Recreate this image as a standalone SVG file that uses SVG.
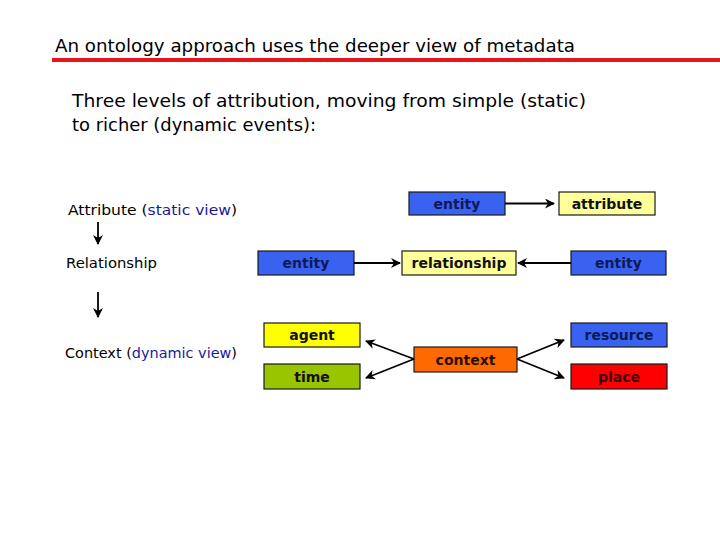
<svg xmlns="http://www.w3.org/2000/svg" width="720" height="540" viewBox="0 0 720 540">
<style>
.hand{font-family:"DejaVu Sans","Liberation Sans",sans-serif;fill:#000}
.lbl{font-family:"DejaVu Sans","Liberation Sans",sans-serif;font-size:14px;fill:#000}
.blue{fill:#1a1a99}
.box{stroke:#1a1a1a;stroke-width:1.2}
.bt{font-family:"DejaVu Sans","Verdana",sans-serif;font-weight:bold;font-size:14px;text-anchor:middle;dominant-baseline:central}
.conn{stroke:#000;stroke-width:1.8;fill:none;marker-end:url(#ah)}
</style>
<defs>
<marker id="ah" viewBox="0 0 10 10" refX="9" refY="5" markerWidth="10" markerHeight="10" markerUnits="userSpaceOnUse" orient="auto">
<path d="M0,0 L10,5 L0,10 L3,5 Z" fill="#000"/>
</marker>
</defs>
<rect width="720" height="540" fill="#fff"/>
<text class="hand" x="55" y="52" font-size="17" textLength="520" lengthAdjust="spacingAndGlyphs">An ontology approach uses the deeper view of metadata</text>
<rect x="52" y="58" width="668" height="4" fill="#e8141b"/>
<text class="hand" x="72" y="107" font-size="18" textLength="514" lengthAdjust="spacingAndGlyphs">Three levels of attribution, moving from simple (static)</text>
<text class="hand" x="72" y="131" font-size="18" textLength="244" lengthAdjust="spacingAndGlyphs">to richer (dynamic events):</text>

<g id="levels">
<text class="lbl" x="68" y="215" textLength="169" lengthAdjust="spacingAndGlyphs">Attribute (<tspan class="blue">static view</tspan>)</text>
<text class="lbl" x="66" y="268" textLength="91" lengthAdjust="spacingAndGlyphs">Relationship</text>
<text class="lbl" x="65" y="358" textLength="172" lengthAdjust="spacingAndGlyphs">Context (<tspan class="blue">dynamic view</tspan>)</text>
</g>

<g id="n-entity1"><rect class="box" x="409" y="192" width="96" height="23" fill="#3a62f0"/><text class="bt" x="457" y="203.5" fill="#0d1a55">entity</text></g>
<g id="n-attribute"><rect class="box" x="559" y="192" width="96" height="23" fill="#ffff99"/><text class="bt" x="607" y="203.5" fill="#111">attribute</text></g>
<g id="n-entity2"><rect class="box" x="258" y="251" width="96" height="24" fill="#3a62f0"/><text class="bt" x="306" y="263" fill="#0d1a55">entity</text></g>
<g id="n-relationship"><rect class="box" x="402" y="251" width="114" height="24" fill="#ffff99"/><text class="bt" x="459" y="263" fill="#111">relationship</text></g>
<g id="n-entity3"><rect class="box" x="571" y="251" width="95" height="24" fill="#3a62f0"/><text class="bt" x="618.5" y="263" fill="#0d1a55">entity</text></g>
<g id="n-agent"><rect class="box" x="264" y="323" width="96" height="24" fill="#ffff00"/><text class="bt" x="312" y="335" fill="#111">agent</text></g>
<g id="n-time"><rect class="box" x="264" y="364" width="96" height="25" fill="#99c400"/><text class="bt" x="312" y="376.5" fill="#111">time</text></g>
<g id="n-context"><rect class="box" x="414" y="347" width="103" height="25" fill="#ff6a00"/><text class="bt" x="465.5" y="359.5" fill="#2a1000">context</text></g>
<g id="n-resource"><rect class="box" x="571" y="323" width="96" height="24" fill="#3a62f0"/><text class="bt" x="619" y="335" fill="#0d1a55">resource</text></g>
<g id="n-place"><rect class="box" x="571" y="364" width="96" height="25" fill="#ff0000"/><text class="bt" x="619" y="376.5" fill="#3a0000">place</text></g>

<g id="connectors">
<line class="conn" x1="98" y1="222" x2="98" y2="244"/>
<line class="conn" x1="98" y1="292" x2="98" y2="317"/>
<line class="conn" x1="505" y1="203.5" x2="554" y2="203.5"/>
<line class="conn" x1="354" y1="263" x2="400" y2="263"/>
<line class="conn" x1="571" y1="263" x2="518" y2="263"/>
<line class="conn" x1="414" y1="359" x2="366" y2="341"/>
<line class="conn" x1="414" y1="359" x2="366" y2="378"/>
<line class="conn" x1="517" y1="359" x2="564" y2="340"/>
<line class="conn" x1="517" y1="359" x2="564" y2="378"/>
</g>
</svg>
